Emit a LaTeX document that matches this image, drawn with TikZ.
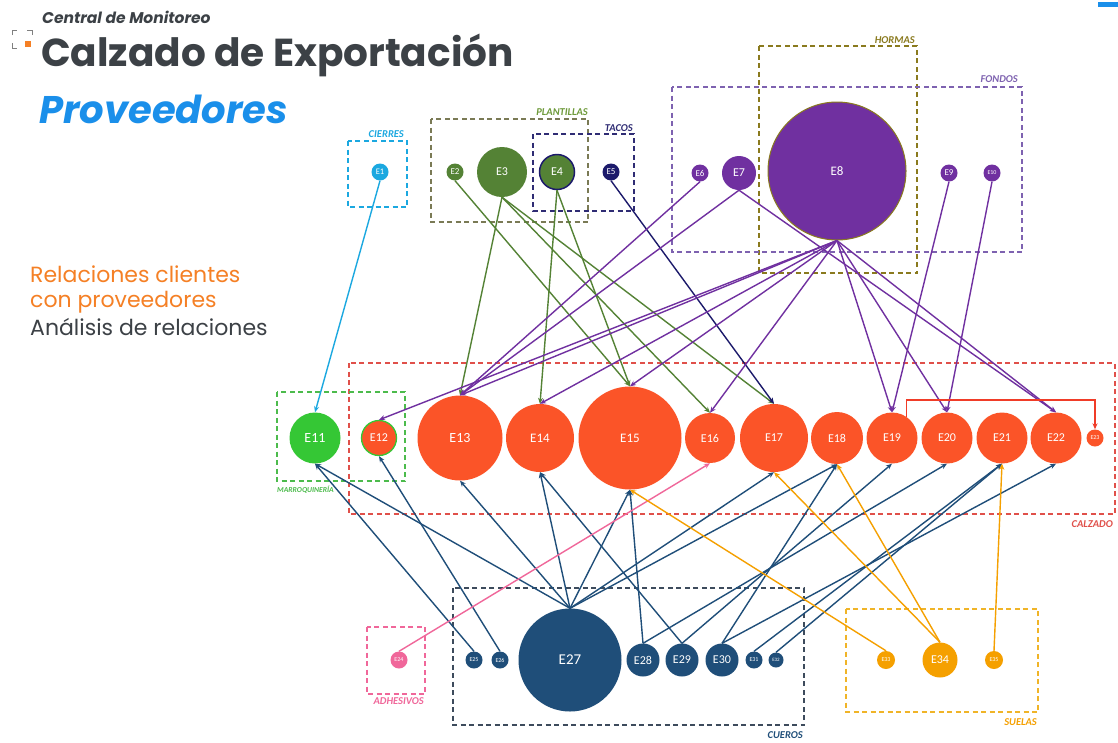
\documentclass[tikz,border=0pt]{standalone}
\usepackage{fontspec}
\setmainfont{Carlito}
\newfontfamily\pop{Poppins}
\usetikzlibrary{arrows.meta,calc}
\definecolor{cCyan}{HTML}{1BA8E0}
\definecolor{cPlant}{HTML}{548235}
\definecolor{cPlantLab}{HTML}{6E9A3A}
\definecolor{cPlantBox}{HTML}{7A7A55}
\definecolor{cNavy}{HTML}{1C1A6B}
\definecolor{cTacoBox}{HTML}{2F2C74}
\definecolor{cPurple}{HTML}{7030A0}
\definecolor{cFondoBox}{HTML}{7E62B0}
\definecolor{cHorma}{HTML}{8A7A1E}
\definecolor{cOrange}{HTML}{FB5428}
\definecolor{cCalzBox}{HTML}{E0504A}
\definecolor{cMarro}{HTML}{35C735}
\definecolor{cMarroBox}{HTML}{4CBB4C}
\definecolor{cPink}{HTML}{F0679A}
\definecolor{cBlue}{HTML}{1F4E79}
\definecolor{cCuero}{HTML}{3D4B5C}
\definecolor{cGold}{HTML}{F5A000}
\definecolor{cSuelaBox}{HTML}{F0B428}
\definecolor{cTitle}{HTML}{3C4146}
\definecolor{cProv}{HTML}{1A8FEA}
\definecolor{cRel}{HTML}{F58025}
\definecolor{cRedLine}{HTML}{F03C28}
\newcommand\fsz[1]{\fontsize{#1}{#1}\selectfont}
\tikzset{
  nd/.style={circle, inner sep=0pt, minimum size=#1, text=white},
  grpbox/.style={line width=1.3pt, dash pattern=on 5pt off 3.5pt},
  blab/.style={font=\fsz{10.5}\bfseries\itshape, inner sep=0pt},
  eg/.style={line width=1.4pt, -{Stealth[length=6pt,width=5pt]}},
}
\begin{document}
\begin{tikzpicture}[x=1pt,y=-1pt]
\useasboundingbox (0,0) rectangle (1118,742);
\fill[white] (0,0) rectangle (1118,742);

% header
\draw[gray, line width=1pt] (12,35) -- (12,30) -- (17,30);
\draw[gray, line width=1pt] (27,30) -- (32,30) -- (32,35);
\draw[gray, line width=1pt] (12,43) -- (12,48) -- (17,48);
\fill[cRel] (25,41) rectangle (31,47);
\fill[cProv] (1098,2) rectangle (1118,7);
\node[anchor=base west, inner sep=0pt, text=cTitle, font=\pop\fsz{15.5}\bfseries\itshape] (t1) at (42,23) {Central de Monitoreo};
\node[anchor=base west, inner sep=0pt, text=cTitle, font=\pop\fsz{39}\bfseries] (t2) at (41,66) {Calzado de Exportación};
\node[anchor=base west, inner sep=0pt, text=cProv, font=\pop\fsz{38.5}\bfseries\itshape] (t3) at (39,123) {Proveedores};
\node[anchor=base west, inner sep=0pt, text=cRel, font=\pop\fsz{22}] (r1) at (30,282) {Relaciones clientes};
\node[anchor=base west, inner sep=0pt, text=cRel, font=\pop\fsz{22}] (r2) at (30,307) {con proveedores};
\node[anchor=base west, inner sep=0pt, text=cTitle, font=\pop\fsz{22}] (r3) at (30,335) {Análisis de relaciones};

% group boxes
\draw[grpbox, cCyan] (348,141) rectangle (407,207);
\node[blab, text=cCyan, anchor=base east] (lCie) at (404,137) {CIERRES};
\draw[grpbox, cPlantBox] (431,119) rectangle (588,222);
\node[blab, text=cPlantLab, anchor=base east] (lPla) at (588,115) {PLANTILLAS};
\draw[grpbox, cTacoBox] (533,134) rectangle (634,211);
\node[blab, text=cTacoBox, anchor=base east] (lTac) at (633,131) {TACOS};
\draw[grpbox, cHorma] (759,46) rectangle (917,273);
\node[blab, text=cHorma, anchor=base east] (lHor) at (915,43) {HORMAS};
\draw[grpbox, cFondoBox] (672,87) rectangle (1022,252);
\node[blab, text=cFondoBox, anchor=base east] (lFon) at (1018,82) {FONDOS};
\draw[grpbox, cCalzBox] (349,363) rectangle (1115,514);
\node[blab, text=cCalzBox, anchor=base east] (lCal) at (1113,527) {CALZADO};
\draw[grpbox, cMarroBox] (277,392) rectangle (405,481);
\node[blab, text=cMarroBox, font=\fsz{7.6}\bfseries\itshape, anchor=base west] (lMar) at (277,492) {MARROQUINERÍA};
\draw[grpbox, cPink] (367,627) rectangle (425,694);
\node[blab, text=cPink, anchor=base east] (lAdh) at (424,704) {ADHESIVOS};
\draw[grpbox, cCuero] (453,588) rectangle (804,725);
\node[blab, text=cBlue, anchor=base east] (lCue) at (803,738) {CUEROS};
\draw[grpbox, cSuelaBox] (846,609) rectangle (1038,712);
\node[blab, text=cGold, anchor=base east] (lSue) at (1037,725) {SUELAS};

% top row
\node[nd=17pt, fill=cCyan, font=\fsz{8.5}] (E1) at (380,172) {E1};
\node[nd=17pt, fill=cPlant, font=\fsz{9}] (E2) at (455,172) {E2};
\node[nd=50pt, fill=cPlant, font=\fsz{12}] (E3) at (502,172) {E3};
\node[nd=35pt, fill=cPlant, draw=cNavy, line width=1.5pt, font=\fsz{12}] (E4) at (557,172) {E4};
\node[nd=17pt, fill=cNavy, font=\fsz{9}] (E5) at (611,172) {E5};
\node[nd=17pt, fill=cPurple, font=\fsz{9}] (E6) at (700,173) {E6};
\node[nd=34pt, fill=cPurple, font=\fsz{12}] (E7) at (739,173) {E7};
\node[nd=138pt, fill=cPurple, draw=cHorma, line width=1pt, font=\fsz{13}] (E8) at (837,171) {E8};
\node[nd=17pt, fill=cPurple, font=\fsz{9}] (E9) at (949,173) {E9};
\node[nd=17pt, fill=cPurple, font=\fsz{6}] (E10) at (992,173) {E10};

% middle row
\node[nd=51pt, fill=cMarro, font=\fsz{14}] (E11) at (315,438) {E11};
\node[nd=35pt, fill=cOrange, draw=cMarro, line width=1.3pt, font=\fsz{12}] (E12) at (379,438) {E12};
\node[nd=85pt, fill=cOrange, font=\fsz{14}] (E13) at (460,438) {E13};
\node[nd=68pt, fill=cOrange, font=\fsz{13}] (E14) at (540,438) {E14};
\node[nd=103pt, fill=cOrange, font=\fsz{13}] (E15) at (630,438) {E15};
\node[nd=50pt, fill=cOrange, font=\fsz{12}] (E16) at (710,438) {E16};
\node[nd=68pt, fill=cOrange, font=\fsz{12}] (E17) at (774,438) {E17};
\node[nd=52pt, fill=cOrange, font=\fsz{12}] (E18) at (837,438) {E18};
\node[nd=51pt, fill=cOrange, font=\fsz{12}] (E19) at (892,438) {E19};
\node[nd=51pt, fill=cOrange, font=\fsz{12}] (E20) at (947,438) {E20};
\node[nd=51pt, fill=cOrange, font=\fsz{12}] (E21) at (1002,438) {E21};
\node[nd=51pt, fill=cOrange, font=\fsz{12}] (E22) at (1056,438) {E22};
\node[nd=17pt, fill=cOrange, font=\fsz{6}] (E23) at (1095,438) {E23};

% bottom row
\node[nd=17pt, fill=cPink, font=\fsz{6}] (E24) at (399,660) {E24};
\node[nd=17pt, fill=cBlue, font=\fsz{6}] (E25) at (474,660) {E25};
\node[nd=17pt, fill=cBlue, font=\fsz{6}] (E26) at (500,660) {E26};
\node[nd=103pt, fill=cBlue, font=\fsz{15}] (E27) at (570,660) {E27};
\node[nd=33pt, fill=cBlue, font=\fsz{12}] (E28) at (643,660) {E28};
\node[nd=33pt, fill=cBlue, font=\fsz{12}] (E29) at (682,660) {E29};
\node[nd=33pt, fill=cBlue, font=\fsz{12}] (E30) at (722,660) {E30};
\node[nd=17pt, fill=cBlue, font=\fsz{6}] (E31) at (754,660) {E31};
\node[nd=15pt, fill=cBlue, font=\fsz{5}] (E32) at (776,660) {E32};
\node[nd=18pt, fill=cGold, font=\fsz{6}] (E33) at (886,660) {E33};
\node[nd=35pt, fill=cGold, font=\fsz{12}] (E34) at (940,660) {E34};
\node[nd=18pt, fill=cGold, font=\fsz{6}] (E35) at (994,660) {E35};

% edges: top to middle
\draw[eg, cCyan] (E1.south) -- (E11.north);
\draw[eg, cPlant] (E3.south) -- (E13.north);
\draw[eg, cPlant] (E3.south) -- (E16.north);
\draw[eg, cPlant] (E3.south) -- (E17.north);
\draw[eg, cPlant] (E2.south) -- (E15.north);
\draw[eg, cPlant] (E4.south) -- (E14.north);
\draw[eg, cPlant] (E4.south) -- (E15.north);
\draw[eg, cNavy] (E5.south) -- (E17.north);
\draw[eg, cPurple] (E6.south) -- (E13.north);
\draw[eg, cPurple] (E7.south) -- (E13.north);
\draw[eg, cPurple] (E7.south) -- (E22.north);
\draw[eg, cPurple] (E8.south) -- (E12.north);
\draw[eg, cPurple] (E8.south) -- (E13.north);
\draw[eg, cPurple] (E8.south) -- (E14.north);
\draw[eg, cPurple] (E8.south) -- (E15.north);
\draw[eg, cPurple] (E8.south) -- (E16.north);
\draw[eg, cPurple] (E8.south) -- (E19.north);
\draw[eg, cPurple] (E8.south) -- (E20.north);
\draw[eg, cPurple] (E8.south) -- (E22.north);
\draw[eg, cPurple] (E9.south) -- (E19.north);
\draw[eg, cPurple] (E10.south) -- (E20.north);
\draw[eg, cRedLine] (E19.55) -- ++(0,-17) -| (E23.north);

% edges: bottom to middle
\draw[eg, cBlue] (E25.north) -- (E11.south);
\draw[eg, cBlue] (E27.north) -- (E11.south);
\draw[eg, cBlue] (E26.north) -- (E12.south);
\draw[eg, cBlue] (E27.north) -- (E13.south);
\draw[eg, cBlue] (E27.north) -- (E14.south);
\draw[eg, cBlue] (E29.north) -- (E14.south);
\draw[eg, cBlue] (E27.north) -- (E15.south);
\draw[eg, cBlue] (E28.north) -- (E15.south);
\draw[eg, cBlue] (E27.north) -- (E17.south);
\draw[eg, cBlue] (E27.north) -- (E18.south);
\draw[eg, cBlue] (E30.north) -- (E18.south);
\draw[eg, cBlue] (E29.north) -- (E19.south);
\draw[eg, cBlue] (E28.north) -- (E20.south);
\draw[eg, cBlue] (E31.north) -- (E21.south);
\draw[eg, cBlue] (E32.north) -- (E21.south);
\draw[eg, cBlue] (E30.north) -- (E22.south);
\draw[eg, cPink] (E24.north) -- (E16.south);
\draw[eg, cGold] (E33.north) -- (E15.south);
\draw[eg, cGold] (E34.north) -- (E17.south);
\draw[eg, cGold] (E34.north) -- (E18.south);
\draw[eg, cGold] (E35.north) -- (E21.south);
\end{tikzpicture}
\end{document}
